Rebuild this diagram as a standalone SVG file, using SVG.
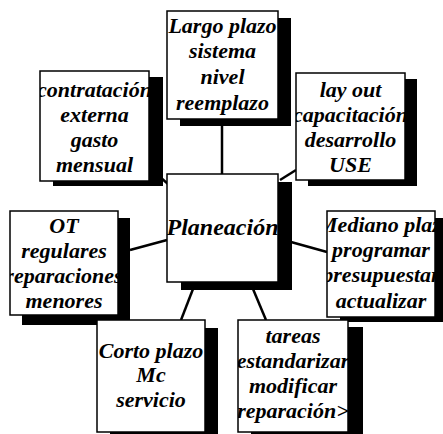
<svg xmlns="http://www.w3.org/2000/svg" width="443" height="434" viewBox="0 0 443 434">
<style>
.bg{fill:#fff}
.box{fill:#fff;stroke:#000;stroke-width:1.5}
.sh{fill:#000}
.t{font-family:'Liberation Serif','DejaVu Serif',serif;font-style:italic;font-weight:bold;font-size:22px;text-anchor:middle;fill:#000}
.big{font-size:24px}
.ln{stroke:#000;stroke-width:2.5;fill:none}
</style>
<defs>
<clipPath id="c1"><rect x="167" y="11" width="111" height="108"/></clipPath>
<clipPath id="c2"><rect x="40" y="71" width="109" height="110"/></clipPath>
<clipPath id="c3"><rect x="296" y="73" width="109" height="107"/></clipPath>
<clipPath id="c4"><rect x="167" y="174" width="111" height="108"/></clipPath>
<clipPath id="c5"><rect x="10" y="211" width="108" height="104"/></clipPath>
<clipPath id="c6"><rect x="327" y="211" width="108" height="106"/></clipPath>
<clipPath id="c7"><rect x="97" y="320" width="108" height="112"/></clipPath>
<clipPath id="c8"><rect x="238" y="320" width="110" height="112"/></clipPath>
</defs>
<rect class="bg" x="0" y="0" width="443" height="434"/>
<g id="connectors">
<line class="ln" x1="222" y1="125" x2="222" y2="174"/>
<line class="ln" x1="160" y1="177" x2="168" y2="184"/>
<line class="ln" x1="296" y1="170" x2="280" y2="180"/>
<line class="ln" x1="130" y1="250" x2="167" y2="240"/>
<line class="ln" x1="291" y1="242" x2="327" y2="252"/>
<line class="ln" x1="193" y1="289" x2="181" y2="320"/>
<line class="ln" x1="253" y1="289" x2="266" y2="320"/>
</g>
<g font-family="'Liberation Serif','DejaVu Serif',serif">
<g id="n_largo">
<rect class="sh" x="180" y="18" width="111" height="108"/>
<rect class="box" x="167" y="11" width="111" height="108"/>
<g clip-path="url(#c1)">
<text class="t" x="222.5" y="33">Largo plazo</text>
<text class="t" x="222.5" y="58">sistema</text>
<text class="t" x="222.5" y="84">nivel</text>
<text class="t" x="222.5" y="110">reemplazo</text>
</g>
</g>
<g id="n_contratacion">
<rect class="sh" x="53" y="77" width="110" height="109"/>
<rect class="box" x="40" y="71" width="109" height="110"/>
<g clip-path="url(#c2)">
<text class="t" x="94.5" y="97">contratación</text>
<text class="t" x="94.5" y="122">externa</text>
<text class="t" x="94.5" y="147">gasto</text>
<text class="t" x="94.5" y="172">mensual</text>
</g>
</g>
<g id="n_layout">
<rect class="sh" x="308" y="79" width="109" height="107"/>
<rect class="box" x="296" y="73" width="109" height="107"/>
<g clip-path="url(#c3)">
<text class="t" x="350.5" y="97">lay out</text>
<text class="t" x="350.5" y="122">capacitación</text>
<text class="t" x="350.5" y="147">desarrollo</text>
<text class="t" x="350.5" y="172">USE</text>
</g>
</g>
<g id="n_planeacion">
<rect class="sh" x="181" y="182" width="111" height="108"/>
<rect class="box" x="167" y="174" width="111" height="108"/>
<g clip-path="url(#c4)">
<text class="t big" x="222.5" y="235">Planeación</text>
</g>
</g>
<g id="n_ot">
<rect class="sh" x="22" y="218" width="108" height="107"/>
<rect class="box" x="10" y="211" width="108" height="104"/>
<g clip-path="url(#c5)">
<text class="t" x="64" y="233">OT</text>
<text class="t" x="64" y="258">regulares</text>
<text class="t" x="64" y="283">reparaciones</text>
<text class="t" x="64" y="308">menores</text>
</g>
</g>
<g id="n_mediano">
<rect class="sh" x="340" y="218" width="108" height="104"/>
<rect class="box" x="327" y="211" width="108" height="106"/>
<g clip-path="url(#c6)">
<text class="t" x="385" y="232">Mediano plazo</text>
<text class="t" x="381" y="257">programar</text>
<text class="t" x="381" y="282">presupuestar</text>
<text class="t" x="381" y="308">actualizar</text>
</g>
</g>
<g id="n_corto">
<rect class="sh" x="110" y="328" width="108" height="112"/>
<rect class="box" x="97" y="320" width="108" height="112"/>
<g clip-path="url(#c7)">
<text class="t" x="151" y="358" font-weight="normal">Corto plazo</text>
<text class="t" x="151" y="382">Mc</text>
<text class="t" x="151" y="407">servicio</text>
</g>
</g>
<g id="n_tareas">
<rect class="sh" x="251" y="327" width="112" height="112"/>
<rect class="box" x="238" y="320" width="110" height="112"/>
<g clip-path="url(#c8)">
<text class="t" x="293" y="343">tareas</text>
<text class="t" x="293" y="368">estandarizar</text>
<text class="t" x="293" y="393">modificar</text>
<text class="t" x="293" y="418">reparación&gt;</text>
</g>
</g>
</g>
</svg>
